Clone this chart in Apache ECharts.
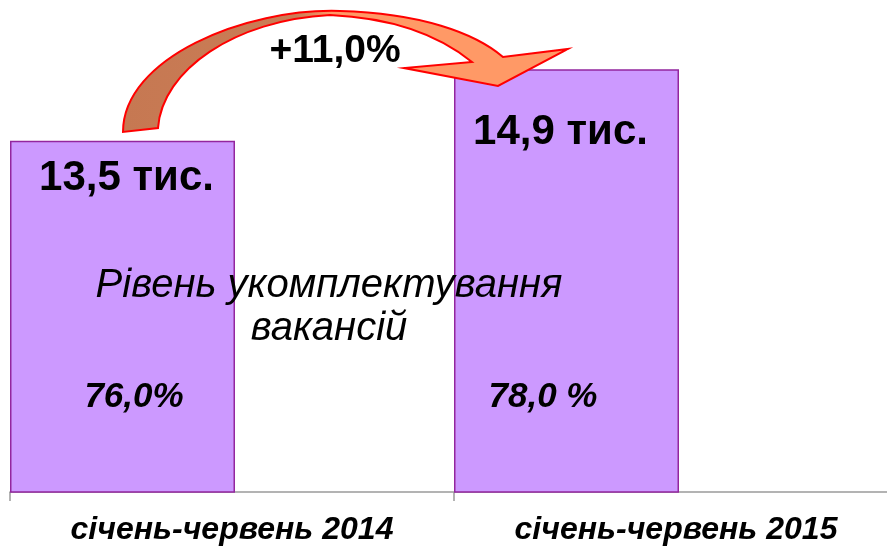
<!DOCTYPE html>
<html>
<head>
<meta charset="utf-8">
<script src="https://cdn.jsdelivr.net/npm/echarts@6/dist/echarts.min.js"></script>
<style>
  html, body { margin: 0; padding: 0; background: #fff; }
  #chart { width: 887px; height: 546px; }
</style>
</head>
<body>
<div id="chart"></div>
<script>
  // data
  const periods = ['січень-червень 2014', 'січень-червень 2015'];
  const vacancies = [13.5, 14.9];          // тис.
  const fillRates = ['76,0%', '78,0 %'];   // рівень укомплектування
  const growthLabel = '+11,0%';
  const centerNote = 'Рівень укомплектування\nвакансій';

  const font = '"Liberation Sans", Arial, sans-serif';
  const chart = echarts.init(document.getElementById('chart'));

  // label nudges per bar (the original labels are not at the same depth)
  const labelDistance = [17, 42];
  const labelShift = [4, -6];

  chart.setOption({
    animation: false,
    grid: { left: 10, width: 888, top: 0, height: 492, outerBoundsMode: 'none', containLabel: false },
    xAxis: {
      type: 'category',
      data: periods,
      axisLine: { lineStyle: { color: '#9a9a9a', width: 1.5 } },
      axisTick: { show: true, length: 9, lineStyle: { color: '#9a9a9a', width: 1.5 } },
      axisLabel: {
        margin: 22,
        color: '#000',
        fontFamily: font,
        fontSize: 32,
        fontWeight: 'bold',
        fontStyle: 'italic'
      }
    },
    yAxis: { type: 'value', min: 6.61, max: 16.26, show: false, splitLine: { show: false } },
    series: [{
      type: 'bar',
      barWidth: 225,
      barGap: '-2.67%',
      z: 2,
      itemStyle: { color: '#CC99FF', borderColor: '#93269E', borderWidth: 1.5 },
      label: {
        show: true,
        position: 'insideTop',
        color: '#000',
        fontFamily: font,
        fontSize: 42,
        fontWeight: 'bold',
        formatter: p => p.value.toFixed(1).replace('.', ',') + ' тис.'
      },
      data: vacancies.map((v, i) => ({
        value: v,
        label: { distance: labelDistance[i], offset: [labelShift[i], 0] }
      }))
    }, {
      // empty slot so each bar sits on the left half of its category
      type: 'bar',
      barWidth: 225,
      data: vacancies.map(() => null)
    }],
    graphic: [
      {
        type: 'text', z: 11, x: 335, y: 51,
        style: { text: growthLabel, font: 'bold 39px ' + font, fill: '#000', align: 'center', verticalAlign: 'middle' }
      },
      {
        type: 'text', z: 11, x: 329, y: 307,
        style: { text: centerNote, font: 'italic 40px ' + font, lineHeight: 43, fill: '#000', align: 'center', verticalAlign: 'middle' }
      },
      {
        type: 'text', z: 11, x: 134, y: 397,
        style: { text: fillRates[0], font: 'italic bold 35px ' + font, fill: '#000', align: 'center', verticalAlign: 'middle' }
      },
      {
        type: 'text', z: 11, x: 543, y: 397,
        style: { text: fillRates[1], font: 'italic bold 35px ' + font, fill: '#000', align: 'center', verticalAlign: 'middle' }
      }
    ]
  });

  // curved arrow between the two bars (brown back side, orange front side)
  const arrow = echarts.graphic.makePath(
    'M123,132 C123,58 245,8 340,11 C420,13 475,33 503,57 ' +
    'L568,49 L498,86 L404,68 L472,62 ' +
    'C440,36 395,18 330,15 C235,20 162,70 158,128 Z',
    {
      z: 100,
      style: {
        fill: {
          type: 'linear', x: 0, y: 0, x2: 1, y2: 0,
          colorStops: [
            { offset: 0, color: '#C67852' },
            { offset: 0.39, color: '#CA7D56' },
            { offset: 0.47, color: '#FF9966' },
            { offset: 1, color: '#FF9966' }
          ]
        },
        stroke: '#FF0000',
        lineWidth: 2
      }
    }
  );
  chart.getZr().add(arrow);
</script>
</body>
</html>
